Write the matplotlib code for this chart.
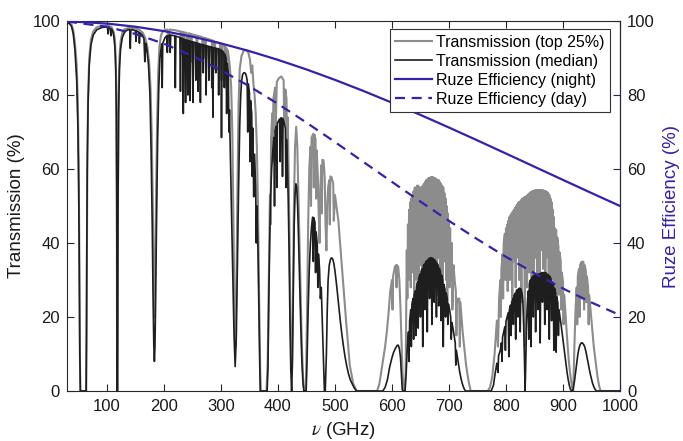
import numpy as np
import matplotlib
matplotlib.use("Agg")
import matplotlib.pyplot as plt

plt.rcParams['font.family'] = ['Liberation Sans', 'DejaVu Sans']
plt.rcParams['mathtext.fontset'] = 'stix'

# ---------------- data ----------------
# Ruze efficiency curves (GHz, %)
ruze_freq = [30, 100, 150, 200, 250, 300, 350, 400, 450, 500, 550, 600,
             650, 700, 750, 800, 850, 900, 950, 1000]
ruze_night = [99.94, 99.31, 98.45, 97.27, 95.76, 93.95, 91.86, 89.50, 86.91,
              84.09, 81.09, 77.92, 74.62, 71.21, 67.72, 64.18, 60.61, 57.05,
              53.50, 50.01]
ruze_day = [99.86, 98.43, 96.50, 93.86, 90.57, 86.71, 82.35, 77.60, 72.54,
            67.29, 61.91, 56.52, 51.19, 45.99, 41.00, 36.26, 31.82, 27.70,
            23.92, 20.50]

# Median transmission (GHz, %)
median_a = [(30, 99.6), (35, 99.2), (38, 98.5), (41, 96.5), (44, 92), (47, 84), (49, 72),
            (50.5, 55), (51.5, 35), (52.5, 10), (53.5, 0), (63.5, 0), (64.2, 15), (64.8, 40),
            (65.5, 60), (67, 78), (69, 88), (72, 93.5), (76, 96.2), (82, 97.6), (90, 98.2),
            (98, 98.4), (101, 98.3), (102, 96.5), (103, 98.2), (106, 98), (107, 96), (108, 97.8),
            (110, 97.3), (112, 96), (114, 93), (115.5, 87), (116.5, 75), (117.3, 50), (117.8, 10),
            (118.3, 0), (118.8, 10), (119.5, 50), (120.5, 75), (122, 87), (124, 92.5), (127, 95.5),
            (131, 97), (136, 97.6), (140, 97.7), (141, 92.6), (142, 97.6), (146, 97.6), (150, 97.4),
            (151, 94.5), (152, 97.3), (156, 97), (157, 94), (158, 96.8), (162, 96.2), (165, 95.2),
            (166.5, 89), (168, 94), (170, 92.5), (173, 88), (175.5, 80), (177.5, 65), (179.5, 45),
            (181, 25), (182.3, 12), (183.3, 8), (184.3, 12), (185.5, 25), (187, 45), (189, 68),
            (191, 82), (193, 90)]
median_b = [(196, 93.8), (197, 82), (198, 94), (202, 95.5), (205, 96), (206, 91.5), (207, 96),
            (210, 96.2), (211, 91.5), (212, 96.2), (216, 96.1), (219, 96), (220, 82), (221, 95.9),
            (225, 95.7), (228, 95.5), (229, 81), (230, 95.4), (233, 95.2), (234, 75), (235, 95.1),
            (237, 95), (238, 78), (239, 94.9), (241, 94.8), (242, 80), (243, 94.7), (245, 94.6),
            (246, 78.5), (247, 94.5), (250, 94.4), (251, 78), (252, 94.3), (255, 94.2), (256, 84),
            (257, 94.1), (259, 94), (260, 81), (261, 93.9), (263, 93.8), (264, 78), (265, 93.7),
            (268, 93.6), (269, 86), (270, 93.5), (273, 93.4), (274, 80), (275, 93.3), (278, 93.2),
            (279, 84), (280, 93.1), (283, 93), (284, 82), (285, 92.9), (286, 74), (287, 92.8),
            (290, 92.7), (291, 86), (292, 92.6), (295, 92.5), (296, 80), (297, 92.4), (300, 92.2),
            (301, 68.5), (302, 92), (305, 91.5), (306, 82), (307, 91), (309, 90), (310, 75),
            (311, 88.5), (313, 86), (314, 70), (315, 76), (317, 60), (319, 45), (321, 30),
            (323, 15), (325, 6.6), (327, 15), (329, 35), (331, 55)]
median_c = [(333, 72), (334.5, 79), (336, 83.5), (338, 85.5), (340, 86), (342, 86), (344, 85.5),
            (346, 84), (347, 70), (348, 83), (350, 80.5), (351, 62), (352, 78.5), (354, 75),
            (355, 58), (356, 71), (357.5, 52.5), (359, 64), (361, 55), (362, 40), (363, 50),
            (365, 38), (366.5, 22), (368, 8), (369, 0), (381, 0)]
median_d = [(382.5, 6), (384, 25), (385.5, 40), (387, 52), (389, 60), (391, 65), (393, 68.5),
            (394, 50), (395, 70.3), (397, 71.5), (398, 55), (399, 72.3), (401, 73), (403, 73.5),
            (404, 62), (405, 73.8), (407, 73.8), (408, 58), (409, 73.5), (411, 72.5), (413, 71),
            (414, 55), (415, 68), (416.5, 62), (418, 52), (419.5, 38), (421, 20), (422.5, 6),
            (424, 0), (425.5, 8), (427, 28), (428.5, 45), (430, 53), (431.5, 56), (433, 55),
            (434.5, 50), (436, 42), (438, 30), (440, 18), (442, 8), (444, 2), (445.5, 0),
            (449.5, 0), (451, 8), (453, 22), (455, 33), (457, 40), (459, 44.5), (461, 47),
            (462, 35), (463, 46.8), (465, 45.5), (466, 32), (467, 43), (469, 39.5), (470, 28),
            (471, 37), (473, 33), (474.5, 25), (476, 28), (478, 18), (480, 8), (481.5, 0),
            (483, 0), (485, 10), (486.5, 22), (488, 30), (490, 34), (492, 35.5), (494, 36),
            (496, 35.7), (498, 34.5), (500, 32.5), (503, 28.5), (506, 24), (509, 19.5),
            (512, 15.5), (515, 12), (518, 9), (521, 6.5), (524, 4.5), (527, 3), (530, 2),
            (534, 0.8), (538, 0), (584, 0)]
median_e = [(588, 1), (592, 3), (596, 6.5), (600, 9), (603, 10.5), (606, 11.5), (609, 12.3),
            (611, 12.4), (613, 11.5), (615, 9), (616, 6), (617, 3), (618, 0.5), (619, 0), (623, 0),
            (625, 5), (627, 12), (629, 16), (630, 8), (631, 19), (633, 22), (634, 12), (635, 23.5),
            (637, 25), (638, 14), (639, 26), (641, 27), (642, 15), (643, 28), (645, 29.5),
            (646, 17), (647, 30.5), (649, 31.5), (650, 20), (651, 32.3), (653, 33), (654, 12),
            (655, 33.8), (657, 34.3), (658, 22), (659, 34.8), (661, 35.2), (662, 16), (663, 35.5),
            (665, 35.8), (666, 25), (667, 36), (669, 36), (670, 18), (671, 35.9), (673, 35.7),
            (674, 24), (675, 35.4), (677, 35), (678, 20), (679, 34.5), (681, 34), (682, 23),
            (683, 33.2), (685, 32.3), (686, 19), (687, 31.3), (689, 30), (690, 12), (691, 28.8),
            (693, 27.5), (694, 20), (695, 26.5), (697, 25), (698, 18), (699, 23.5), (701, 22),
            (703, 20), (704, 14), (705, 18.5), (707, 17), (709, 15), (711, 13), (712, 7),
            (713, 11), (715, 9), (717, 7), (719, 5), (721, 3.5), (723, 2.2), (725, 1.2),
            (727, 0.5), (729, 0)]
median_f = [(774, 0), (778, 1.5), (781, 4.8), (784, 7.5), (786, 5), (787, 9.5), (790, 11),
            (792, 13), (793, 8), (794, 14.5), (796, 16), (798, 17.4), (799, 11), (800, 18.8),
            (802, 20), (804, 21.2), (805, 9.3), (806, 22), (808, 23.2), (809, 15), (810, 24),
            (812, 25), (813, 18), (814, 25.8), (816, 26.4), (817, 14), (818, 27), (820, 27.4),
            (821, 20), (822, 27.6), (824, 27.8), (825, 16), (826, 27.6), (828, 26.5),
            (829.5, 24.5), (831, 18), (832.5, 8), (833.5, 0), (834.5, 6), (836, 18),
            (837.5, 23.7), (839, 27), (840, 14), (841, 29), (843, 30), (844, 12), (845, 30.5),
            (847, 31), (848, 20), (849, 31.2), (851, 31.4), (852, 16), (853, 31.4), (855, 31.5),
            (856, 22), (857, 31.6), (859, 31.7), (860, 13), (861, 31.8), (863, 32), (864, 24),
            (865, 32), (867, 32), (868, 18), (869, 32), (871, 31.8), (872, 22), (873, 31.5),
            (875, 31.2), (876, 14), (877, 31), (879, 30.3), (880, 19), (881, 29.5), (883, 28.6),
            (884, 11), (885, 27.8), (887, 26.6), (888, 10.5), (889, 25.4), (891, 23.8), (892, 15),
            (893, 22), (895, 19.8), (897, 17.5), (899, 15), (901, 12.5), (903, 10), (905, 7.5),
            (907, 5.2), (909, 3.2), (911, 1.6), (913, 0.5), (915, 0), (917, 0), (920, 2.5),
            (922, 5), (924, 7.5), (926, 9.8), (928, 11.5), (930, 12.5), (932, 13), (934, 13),
            (936, 12.6), (938, 12), (940, 10.8), (942, 9.3), (944, 7.7), (946, 6), (948, 4.5),
            (950, 3.2), (952, 2), (954, 1.2), (956, 0.5), (959, 0), (1000, 0)]

# Top-25% transmission (GHz, %)
top_a = [(30, 99.8), (38, 99), (41, 97.5), (44, 94), (47, 88), (49, 78), (50.5, 62), (51.5, 40),
         (52.5, 12), (53.3, 0), (63.8, 0), (64.4, 20), (65, 45), (65.8, 65), (67, 80), (69, 90),
         (72, 95), (76, 97.2), (82, 98.3), (90, 98.7), (100, 98.8), (108, 98.4), (112, 97),
         (114, 95), (115.5, 90), (116.5, 80), (117.3, 55), (117.8, 15), (118.3, 0), (118.8, 15),
         (119.5, 55), (120.5, 80), (122, 90), (124, 94.5), (127, 96.8), (131, 97.8), (140, 98.2),
         (150, 98), (158, 97.5), (163, 96.8), (167, 95.5), (171, 93), (174, 89), (176.5, 82),
         (178.5, 70), (180.5, 50), (182, 30), (183.3, 20), (184.5, 30), (186, 50), (188, 72),
         (190, 86), (192, 93)]
top_b = [(195, 96.2), (198, 97.2), (202, 97.6), (206, 97.7), (208, 94), (210, 97.7), (215, 97.6),
         (220, 97.5), (225, 97.3), (229, 97.2), (230, 91), (231, 97.1), (234, 97), (235, 88),
         (236, 96.9), (240, 96.8), (242, 90), (244, 96.7), (247, 96.5), (248, 89), (249, 96.4),
         (254, 96.2), (257, 96.1), (258, 90), (259, 96), (264, 95.8), (267, 95.6), (268, 89),
         (269, 95.5), (272, 95.4), (273, 90), (274, 95.3), (280, 95), (284, 94.8), (285, 90),
         (286, 94.7), (288, 94.5), (289, 87), (290, 94.4), (295, 94.2), (298, 94), (299, 89),
         (300, 93.8), (301, 84), (302, 93.6), (306, 93.2), (307, 88), (308, 93), (310, 92.5),
         (311, 85), (312, 92), (314, 90), (316, 87), (318, 82), (320, 70), (322, 45), (324, 20),
         (325.5, 12), (327, 25), (329, 55), (331, 78), (333, 87), (336, 90.5), (340, 92),
         (344, 92.2), (348, 91.5), (351, 89.5), (353, 86), (355, 88), (357, 83), (359, 80),
         (361, 75), (363, 66), (365, 50), (367, 25), (369, 5), (370, 0), (380, 0)]
top_c = [(382, 8), (384, 30), (386, 53), (387, 45), (388, 68), (390, 75), (391, 62), (392, 79),
         (395, 82), (396, 70), (398, 83.6), (402, 84.6), (406, 85), (410, 84), (411, 72),
         (413, 81.5), (415, 79), (416, 66), (417, 74), (418, 66), (420, 45), (422, 18), (424, 5),
         (426, 20), (428, 50), (430, 66), (432, 71.4), (434, 66), (436, 52), (438, 38), (440, 25),
         (442, 12), (444, 4), (446, 0), (449, 0), (451, 20), (453, 45), (455, 60), (457, 66),
         (458, 50), (459, 68.5), (462, 69.5), (463, 55), (464, 69.3), (466, 68), (467, 52),
         (468, 65), (470, 58), (471.5, 48), (473, 40), (474.5, 55), (476, 61), (477, 48),
         (478, 62.5), (480, 62.3), (482, 58), (483.5, 45), (485, 38), (486.5, 50), (488, 55),
         (490, 57), (491, 45), (492, 58), (494, 57.8), (497, 56), (498, 46), (500, 53),
         (503, 49.5), (506, 46), (510, 38), (515, 28), (520, 18), (526, 7), (532, 2), (538, 0),
         (574, 0)]
top_d = [(578, 2), (582, 6), (585, 9), (588, 12), (591, 16), (594, 21), (597, 27), (600, 30),
         (601, 22), (602, 31), (605, 33.5), (607, 34), (608, 28), (609, 34), (611, 33.5),
         (613, 30), (615, 22), (617, 12), (618.5, 5), (620, 1), (622, 0), (624, 5), (626, 38),
         (627, 25), (628, 45), (629, 30), (630, 49), (631, 35), (632, 51), (633, 28), (634, 52),
         (635, 40), (636, 53), (637, 32), (638, 54), (639, 22), (640, 55), (641, 36), (642, 55),
         (643, 30), (644, 55.5), (645, 40), (646, 55.5), (647, 26), (648, 55), (649, 34),
         (650, 55), (651, 42), (652, 55), (653, 30), (654, 55.5), (655, 38), (656, 56), (657, 24),
         (658, 56.5), (659, 35), (660, 57), (661, 44), (662, 57.2), (663, 30), (664, 57.5),
         (665, 38), (666, 57.6), (667, 28), (668, 57.8), (669, 40), (670, 57.8), (671, 33),
         (672, 57.8), (673, 45), (674, 57.6), (675, 30), (676, 57.5), (677, 38), (678, 57.3),
         (679, 26), (680, 57), (681, 36), (682, 57), (683, 42), (684, 56.5), (685, 30), (686, 56),
         (687, 38), (688, 55.5), (689, 25), (690, 55), (691, 35), (692, 53.5), (693, 40),
         (694, 52), (695, 30), (696, 50), (697, 22), (698, 48), (699, 35), (700, 46), (701, 28),
         (702, 44), (703, 30), (705, 40), (706, 22), (708, 34), (710, 30), (712, 27), (713, 15),
         (714, 25), (716, 24), (718, 25), (719, 12), (720, 24), (722, 20), (724, 16), (726, 13),
         (728, 10), (730, 7), (732, 5), (734, 3), (736, 1.5), (738, 0)]
top_e = [(768, 0), (772, 1), (776, 4), (780, 10), (784, 19), (786, 12), (788, 25), (790, 30),
         (791, 20), (792, 33), (794, 37), (795, 25), (796, 40), (798, 42.5), (799, 30), (800, 44),
         (801, 34), (802, 45), (803, 27), (804, 46), (805, 36), (806, 47), (807, 30), (808, 47.5),
         (809, 38), (810, 48), (811, 25), (812, 48.5), (813, 35), (814, 49), (815, 40), (816, 49.5),
         (817, 28), (818, 50), (819, 36), (820, 50.5), (821, 42), (822, 51), (823, 30), (824, 51),
         (825, 38), (826, 51.5), (827, 24), (828, 52), (829, 34), (830, 52), (831, 40),
         (832, 52.3), (833, 12), (834, 52.5), (835, 36), (836, 52.7), (837, 28), (838, 53),
         (839, 40), (840, 53.3), (841, 32), (842, 53.6), (843, 42), (844, 53.8), (845, 30),
         (846, 54), (847, 38), (848, 54.1), (849, 26), (850, 54.2), (851, 36), (852, 54.3),
         (853, 44), (854, 54.3), (855, 32), (856, 54.3), (857, 40), (858, 54.3), (859, 28),
         (860, 54.3), (861, 38), (862, 54.3), (863, 45), (864, 54.3), (865, 33), (866, 54.2),
         (867, 40), (868, 54), (869, 27), (870, 54), (871, 36), (872, 53.8), (873, 42),
         (874, 53.5), (875, 30), (876, 53), (877, 38), (878, 52), (879, 25), (880, 51), (881, 36),
         (882, 49), (883, 30), (884, 47), (885, 20), (886, 44), (887, 32), (888, 43.5), (889, 22),
         (890, 41.5), (892, 39), (893, 26), (894, 37.5), (896, 35), (897, 22), (898, 32),
         (900, 29.5), (901, 18), (902, 26), (904, 22), (906, 17), (908, 12.5), (910, 8.5),
         (912, 5.5), (914, 3), (916, 1), (918, 0), (920, 12), (922, 22), (924, 28), (925, 18),
         (926, 31), (928, 33), (929, 20), (930, 34), (932, 34.8), (933, 25), (934, 35),
         (936, 34.8), (937, 22), (938, 34), (940, 32.5), (941, 24), (942, 31), (944, 28),
         (945, 18), (946, 26), (948, 22.5), (950, 19), (952, 15.5), (954, 12), (956, 9.5),
         (958, 7), (960, 4.5), (962, 2.5), (964, 1), (966, 0), (1000, 0)]

legend_labels = ['Transmission (top 25%)', 'Transmission (median)',
                 'Ruze Efficiency (night)', 'Ruze Efficiency (day)']
x_ticks = [100, 200, 300, 400, 500, 600, 700, 800, 900, 1000]
y_ticks = [0, 20, 40, 60, 80, 100]

# ---------------- plotting ----------------
median = np.array(median_a + median_b + median_c + median_d + median_e + median_f)
top = np.array(top_a + top_b + top_c + top_d + top_e)

W, H = 683, 441
fig = plt.figure(figsize=(W / 100, H / 100), dpi=100)
ax = fig.add_axes([67 / W, 1 - 391 / H, 553 / W, 370 / H])
ax2 = ax.twinx()

gray = '#8c8c8c'
black = '#1e1e1e'
blue = '#3323a8'

l1, = ax.plot(top[:, 0], top[:, 1], color=gray, lw=1.5, label=legend_labels[0])
l2, = ax.plot(median[:, 0], median[:, 1], color=black, lw=1.2, label=legend_labels[1])
l3, = ax2.plot(ruze_freq, ruze_night, color=blue, lw=1.6, label=legend_labels[2])
l4, = ax2.plot(ruze_freq, ruze_day, color=blue, lw=1.6, ls=(0, (4.5, 3)),
               label=legend_labels[3])

ax.set_xlim(30, 1000)
ax.set_ylim(0, 100)
ax2.set_ylim(0, 100)
ax.set_xticks(x_ticks)
ax.set_yticks(y_ticks)
ax2.set_yticks(y_ticks)

ax.tick_params(axis='both', direction='in', length=5, width=0.8, labelsize=12,
               colors='#262626', labelcolor='#1a1a1a')
ax.tick_params(axis='x', top=True, pad=6)
ax.tick_params(axis='y', right=False, pad=5)
ax2.tick_params(axis='y', direction='in', length=5, width=0.8, labelsize=12,
                colors='#26264a', labelcolor='#1a1a1a', pad=5)

for sp in ['left', 'bottom', 'top']:
    ax.spines[sp].set_color('#262626')
    ax.spines[sp].set_linewidth(0.8)
ax2.spines['right'].set_color('#26264a')
ax2.spines['right'].set_linewidth(0.8)
for sp in ['left', 'bottom', 'top']:
    ax2.spines[sp].set_visible(False)

ax.set_xlabel(r'$\nu$ (GHz)', fontsize=13.5, color='#1a1a1a')
ax.set_ylabel('Transmission (%)', fontsize=13.5, color='#1a1a1a')
ax2.set_ylabel('Ruze Efficiency (%)', fontsize=13.5, color=blue)
ax.xaxis.set_label_coords(0.5, -0.078)
ax.yaxis.set_label_coords(-0.076, 0.5)
ax2.yaxis.set_label_coords(1.077, 0.5)

leg = ax2.legend(handles=[l1, l2, l3, l4], loc='upper right',
                 bbox_to_anchor=(610 / W, 1 - 29 / H), bbox_transform=fig.transFigure,
                 borderaxespad=0, fontsize=11.5, fancybox=False, framealpha=1,
                 edgecolor='#333333', handlelength=2.3, handletextpad=0.25,
                 labelspacing=0.25, borderpad=0.35)
leg.get_frame().set_linewidth(0.8)

fig.savefig('out.png', dpi=100)
